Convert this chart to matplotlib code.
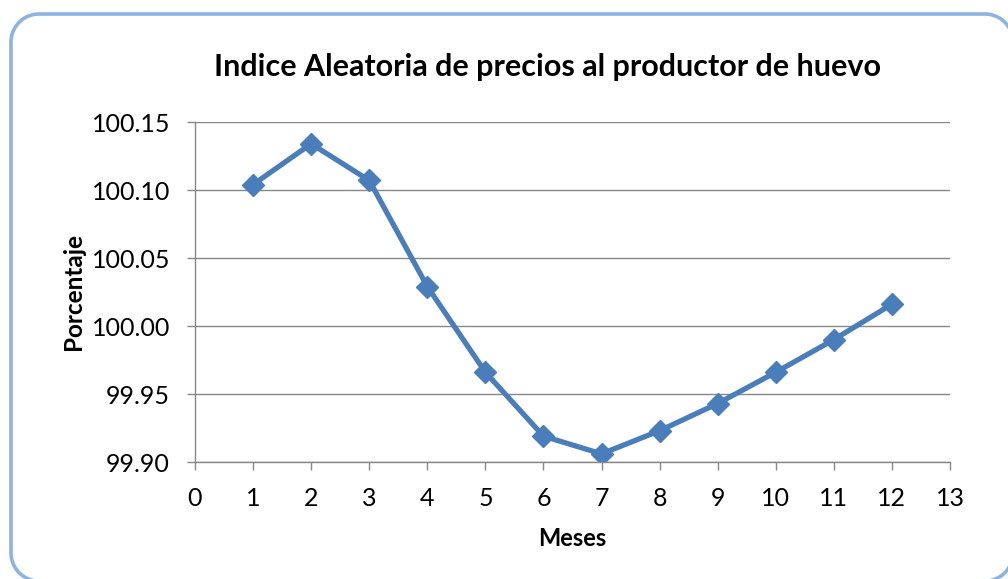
import numpy as np
import matplotlib.pyplot as plt

plt.rcParams['font.family'] = ['Lato', 'DejaVu Sans']

# monthly egg producer price index
meses = [1, 2, 3, 4, 5, 6, 7, 8, 9, 10, 11, 12]
porcentaje = [100.104, 100.134, 100.107, 100.029, 99.966, 99.919,
              99.906, 99.923, 99.943, 99.966, 99.990, 100.016]
y_ticks = [99.90, 99.95, 100.00, 100.05, 100.10, 100.15]
x_ticks = list(range(0, 14))


def rounded_rect(x0, y0, x1, y1, r, n=20):
    # closed outline of a rounded rectangle, in pixel units
    xs, ys = [], []
    corners = [(x1 - r, y1 - r, 0, 90), (x0 + r, y1 - r, 90, 180),
               (x0 + r, y0 + r, 180, 270), (x1 - r, y0 + r, 270, 360)]
    for cx, cy, a0, a1 in corners:
        t = np.radians(np.linspace(a0, a1, n))
        xs.extend(cx + r * np.cos(t))
        ys.extend(cy + r * np.sin(t))
    xs.append(xs[0])
    ys.append(ys[0])
    return xs, ys


fig = plt.figure(figsize=(10.08, 5.79), dpi=100)

# background axes in pixel units, used only for the rounded frame
bg = fig.add_axes([0, 0, 1, 1])
bg.set_xlim(0, 1008)
bg.set_ylim(0, 579)
bg.axis('off')
fx, fy = rounded_rect(11, -2, 1013, 565, 28)
bg.plot(fx, fy, color='#8DB3E2', linewidth=2.6, solid_joinstyle='round')

ax = fig.add_axes([195/1008, 1 - 462/579, (950-195)/1008, (462-122)/579])
ax.plot(meses, porcentaje, color='#4A7EBB', linewidth=3.8, marker='D',
        markersize=11, markerfacecolor='#4A7EBB', markeredgecolor='#4A7EBB')

ax.set_xlim(0, 13)
ax.set_ylim(99.90, 100.15)
ax.set_xticks(x_ticks)
ax.set_yticks(y_ticks)
ax.set_yticklabels(['%.2f' % v for v in y_ticks])
ax.grid(axis='y', color='#888888', linewidth=1.0)
ax.set_axisbelow(True)
ax.patch.set_alpha(0)
for s in ['top', 'right']:
    ax.spines[s].set_visible(False)
for s in ['left', 'bottom']:
    ax.spines[s].set_color('#888888')
    ax.spines[s].set_linewidth(1.0)
ax.tick_params(axis='both', colors='#888888', labelcolor='black',
               labelsize=18, length=6, width=1.0)
ax.tick_params(axis='y', pad=12)
ax.tick_params(axis='x', pad=12)

ax.set_xlabel('Meses', fontsize=17, fontweight='bold', labelpad=12)
ax.set_ylabel('Porcentaje', fontsize=17.5, fontweight='bold', labelpad=5)
fig.text(548/1008, 1 - 67/579, 'Indice Aleatoria de precios al productor de huevo',
         ha='center', va='center', fontsize=22, fontweight='bold')

fig.savefig('out.png', dpi=100)
